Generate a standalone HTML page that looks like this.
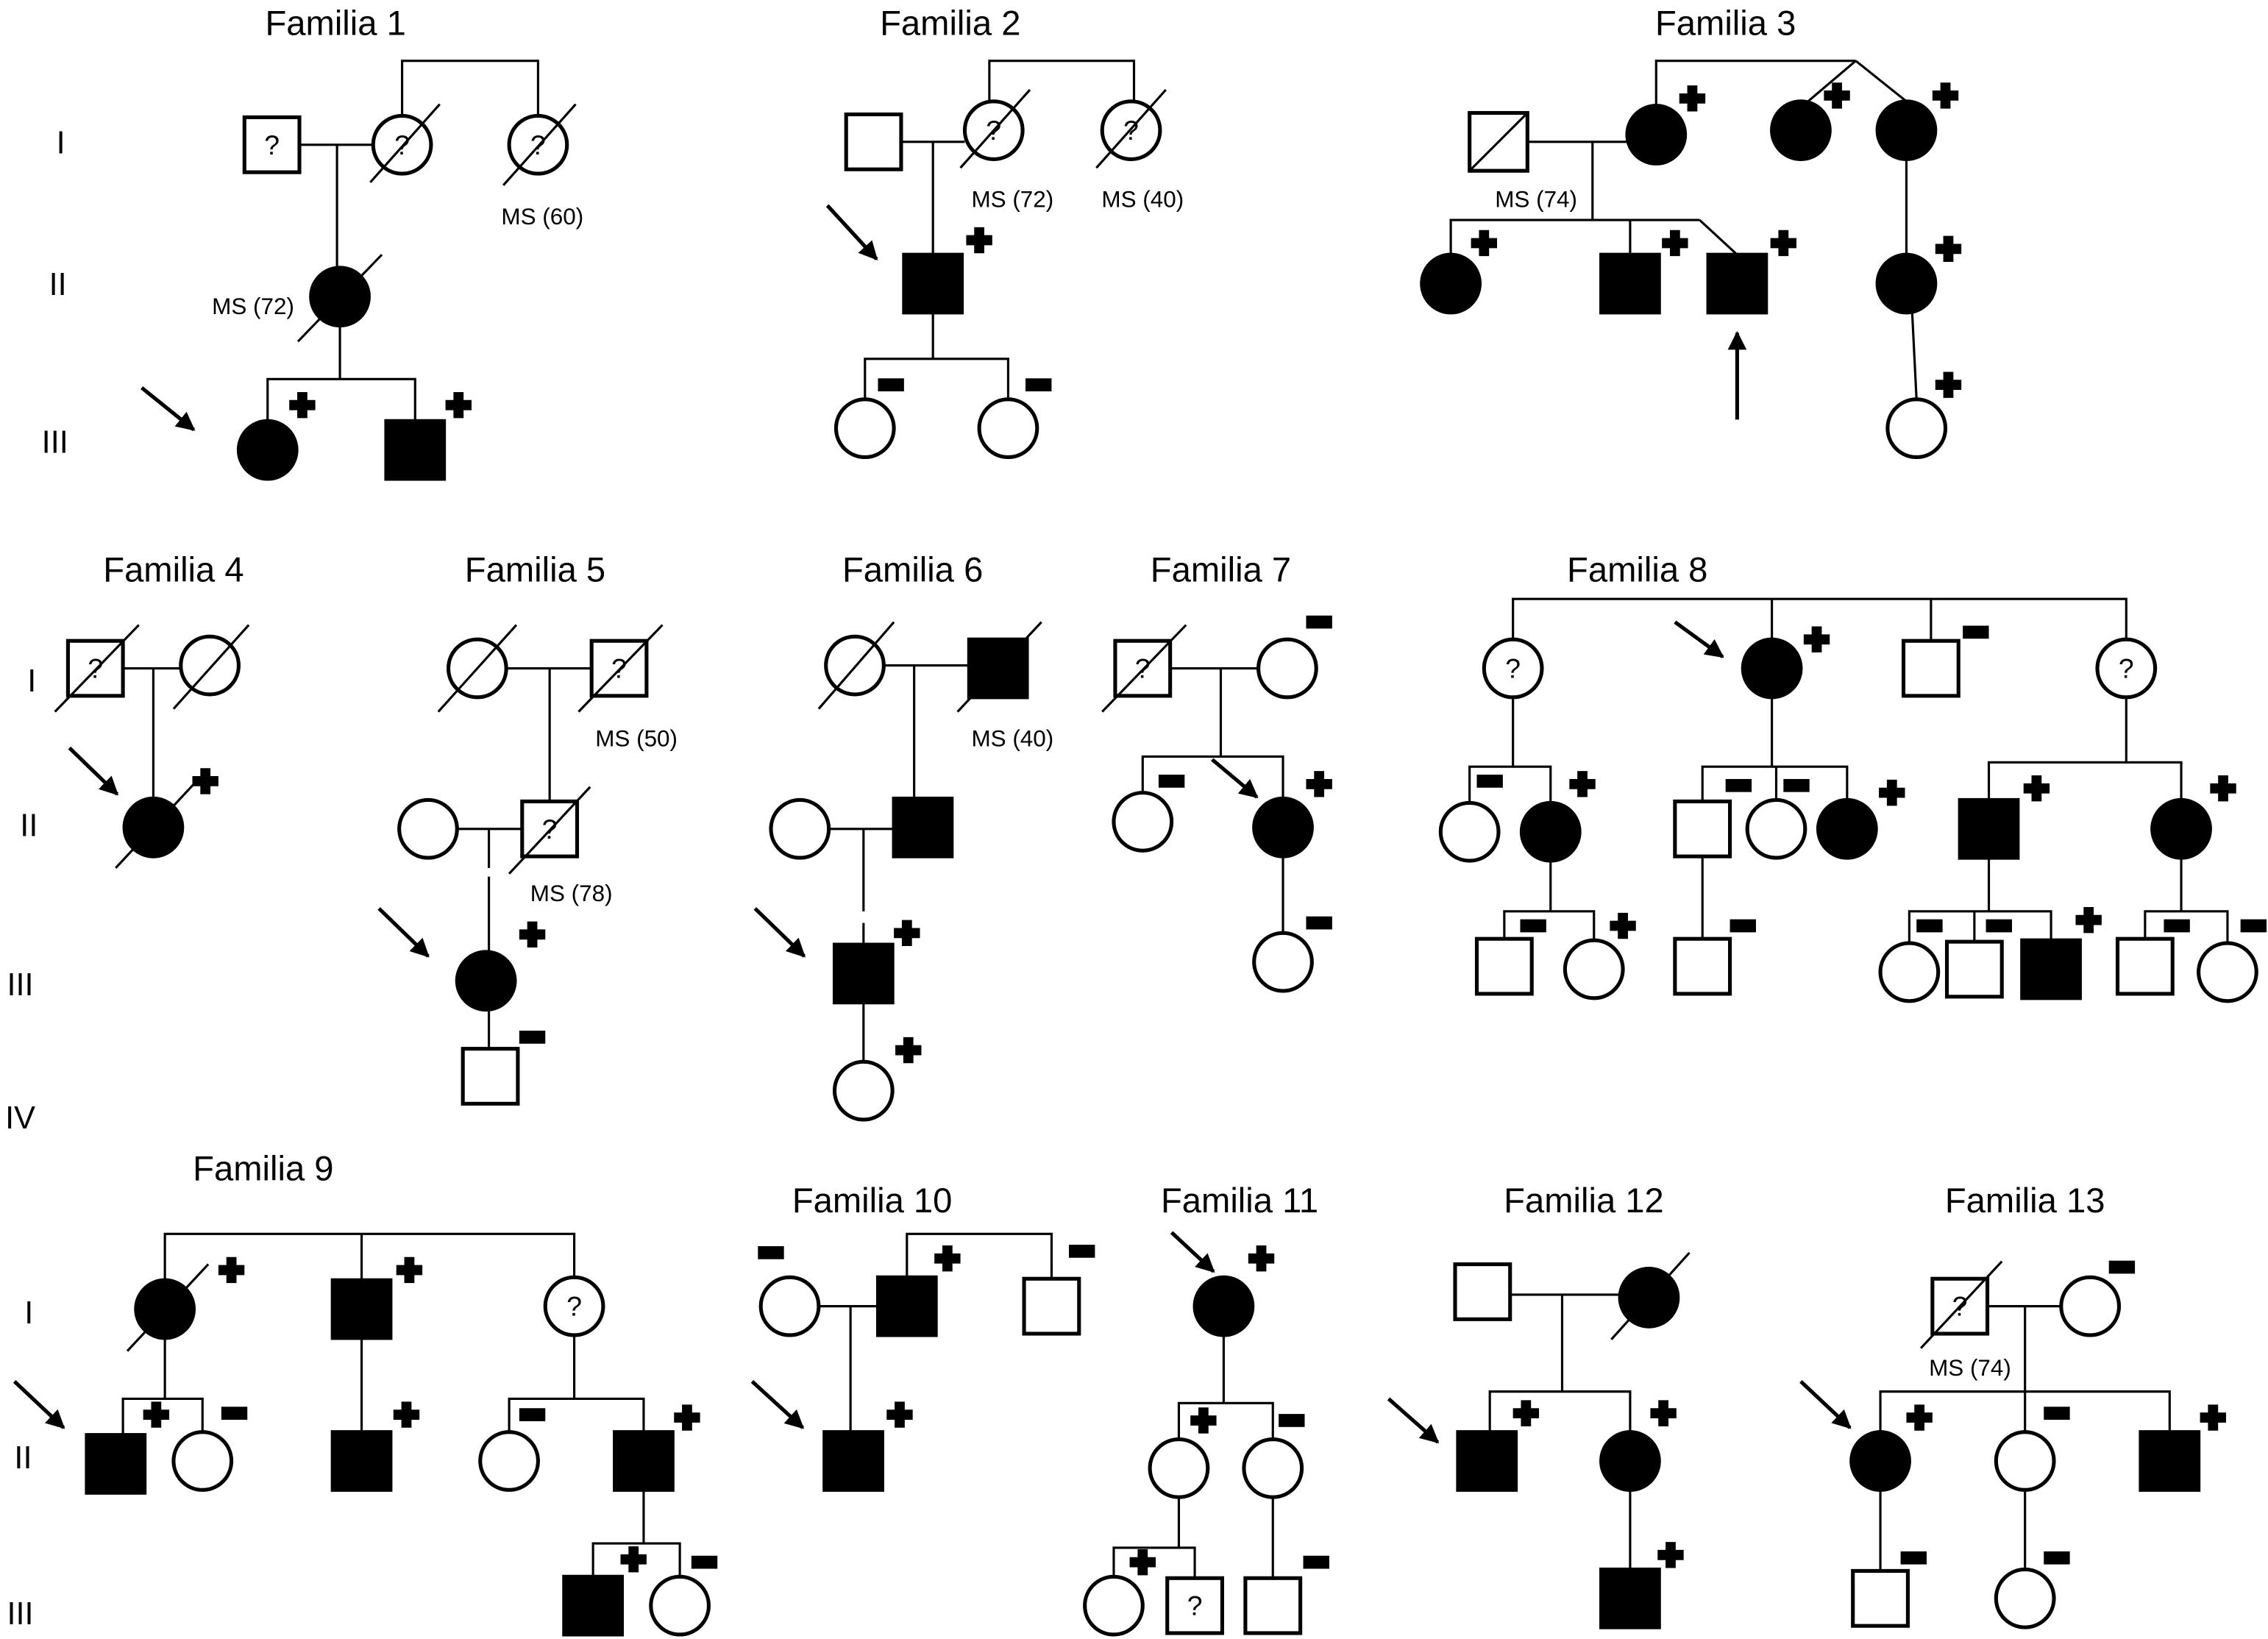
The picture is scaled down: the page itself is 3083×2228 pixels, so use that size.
<!DOCTYPE html>
<html><head><meta charset="utf-8"><style>
html,body{margin:0;padding:0;background:#fff}
svg{display:block}
text{font-family:"Liberation Sans",Arial,sans-serif;fill:#000}
.t{font-size:24px;text-anchor:middle}
.g{font-size:22px;text-anchor:middle}
.m{font-size:16px;text-anchor:middle}
.q{font-size:19px;text-anchor:middle;dominant-baseline:central}
.s{fill:#fff;stroke:#000;stroke-width:2.6}
.f{fill:#000;stroke:#000;stroke-width:2.6}
line,polyline{stroke:#000;stroke-width:1.6;fill:none}
.ar{stroke-width:2.6}
</style></head><body>
<svg width="3083" height="2228" viewBox="0 0 1568 1133" xmlns="http://www.w3.org/2000/svg">
<defs>
<path id="p" d="M-3.5,-9H3.5V-3.5H9V3.5H3.5V9H-3.5V3.5H-9V-3.5H-3.5Z" fill="#000"/>
<rect id="n" x="-9" y="-4.5" width="18" height="9" fill="#000"/>
<marker id="ah" viewBox="0 0 10 10" refX="9" refY="5" markerWidth="5" markerHeight="5" orient="auto"><path d="M0,0L10,5L0,10Z" fill="#000"/></marker>
</defs>

<!-- generation labels -->
<text class="g" x="42" y="106">I</text><text class="g" x="40" y="204">II</text><text class="g" x="38" y="313">III</text>
<text class="g" x="22" y="478">I</text><text class="g" x="20" y="578">II</text><text class="g" x="14" y="688">III</text><text class="g" x="14" y="780">IV</text>
<text class="g" x="20" y="915">I</text><text class="g" x="16" y="1015">II</text><text class="g" x="14" y="1123">III</text>

<!-- ===== Familia 1 ===== -->
<text class="t" x="232" y="24">Familia 1</text>
<polyline points="278,80 278,42 372,42 372,80"/>
<line x1="207" y1="100" x2="258" y2="100"/>
<line x1="233" y1="100" x2="233" y2="185"/>
<polyline points="185,291 185,262 287,262 287,291"/>
<line x1="235" y1="225" x2="235" y2="262"/>
<rect class="s" x="169" y="81" width="38" height="38"/><text class="q" x="188" y="100">?</text>
<circle class="s" cx="278" cy="100" r="20"/><text class="q" x="278" y="100">?</text>
<line x1="256" y1="126" x2="304" y2="72"/>
<circle class="s" cx="372" cy="100" r="20"/><text class="q" x="372" y="100">?</text>
<line x1="348" y1="128" x2="398" y2="72"/>
<text class="m" x="375" y="155">MS (60)</text>
<circle class="f" cx="235" cy="205" r="20"/>
<line x1="206" y1="236" x2="264" y2="176"/>
<text class="m" x="175" y="217">MS (72)</text>
<circle class="f" cx="185" cy="311" r="20"/><use href="#p" x="209" y="280"/>
<rect class="f" x="267" y="291" width="40" height="40"/><use href="#p" x="317" y="280"/>
<line class="ar" x1="98" y1="268" x2="134" y2="297" marker-end="url(#ah)"/>

<!-- ===== Familia 2 ===== -->
<text class="t" x="657" y="24">Familia 2</text>
<polyline points="684,70 684,42 784,42 784,70"/>
<line x1="624" y1="98" x2="667" y2="98"/>
<line x1="645" y1="98" x2="645" y2="176"/>
<rect class="s" x="585" y="79" width="38" height="38"/>
<circle class="s" cx="687" cy="90" r="20"/><text class="q" x="687" y="90">?</text>
<line x1="664" y1="116" x2="712" y2="62"/>
<circle class="s" cx="782" cy="90" r="20"/><text class="q" x="782" y="90">?</text>
<line x1="758" y1="116" x2="806" y2="62"/>
<text class="m" x="700" y="143">MS (72)</text><text class="m" x="790" y="143">MS (40)</text>
<rect class="f" x="625" y="176" width="40" height="40"/><use href="#p" x="677" y="166"/>
<line class="ar" x1="572" y1="142" x2="606" y2="179" marker-end="url(#ah)"/>
<line x1="645" y1="216" x2="645" y2="248"/>
<polyline points="598,276 598,248 697,248 697,276"/>
<circle class="s" cx="598" cy="296" r="20"/><use href="#n" x="616" y="266"/>
<circle class="s" cx="697" cy="296" r="20"/><use href="#n" x="718" y="266"/>

<!-- ===== Familia 3 ===== -->
<text class="t" x="1193" y="24">Familia 3</text>
<polyline points="1145,73 1145,42 1283,42"/>
<line x1="1283" y1="42" x2="1250" y2="70"/><line x1="1283" y1="42" x2="1318" y2="70"/>
<line x1="1056" y1="98" x2="1125" y2="98"/>
<line x1="1101" y1="98" x2="1101" y2="152"/>
<polyline points="1003,176 1003,152 1175,152"/>
<line x1="1127" y1="152" x2="1127" y2="176"/>
<line x1="1175" y1="152" x2="1201" y2="176"/>
<rect class="s" x="1016" y="78" width="40" height="40"/>
<line x1="1016" y1="118" x2="1056" y2="78"/>
<circle class="f" cx="1145" cy="93" r="20"/><use href="#p" x="1170" y="68"/>
<circle class="f" cx="1245" cy="90" r="20"/><use href="#p" x="1270" y="66"/>
<circle class="f" cx="1318" cy="90" r="20"/><use href="#p" x="1345" y="66"/>
<text class="m" x="1062" y="143">MS (74)</text>
<circle class="f" cx="1003" cy="196" r="20"/><use href="#p" x="1026" y="168"/>
<rect class="f" x="1107" y="176" width="40" height="40"/><use href="#p" x="1158" y="168"/>
<rect class="f" x="1181" y="176" width="40" height="40"/><use href="#p" x="1233" y="168"/>
<line class="ar" x1="1201" y1="290" x2="1201" y2="230" marker-end="url(#ah)"/>
<line x1="1318" y1="110" x2="1318" y2="176"/>
<circle class="f" cx="1318" cy="196" r="20"/><use href="#p" x="1347" y="172"/>
<line x1="1322" y1="216" x2="1325" y2="276"/>
<circle class="s" cx="1325" cy="296" r="20"/><use href="#p" x="1347" y="266"/>

<!-- ===== Familia 4 ===== -->
<text class="t" x="120" y="402">Familia 4</text>
<line x1="86" y1="462" x2="125" y2="462"/>
<line x1="106" y1="462" x2="106" y2="552"/>
<rect class="s" x="47" y="443" width="38" height="38"/><text class="q" x="66" y="462">?</text>
<line x1="38" y1="492" x2="96" y2="432"/>
<circle class="s" cx="145" cy="460" r="20"/>
<line x1="120" y1="490" x2="172" y2="432"/>
<circle class="f" cx="106" cy="572" r="20"/><use href="#p" x="142" y="540"/>
<line x1="80" y1="600" x2="134" y2="542"/>
<line class="ar" x1="48" y1="517" x2="81" y2="549" marker-end="url(#ah)"/>

<!-- ===== Familia 5 ===== -->
<text class="t" x="370" y="402">Familia 5</text>
<line x1="350" y1="462" x2="408" y2="462"/>
<line x1="380" y1="462" x2="380" y2="554"/>
<circle class="s" cx="330" cy="462" r="20"/>
<line x1="303" y1="492" x2="357" y2="432"/>
<rect class="s" x="409" y="443" width="38" height="38"/><text class="q" x="428" y="462">?</text>
<line x1="400" y1="492" x2="458" y2="432"/>
<text class="m" x="440" y="516">MS (50)</text>
<line x1="316" y1="573" x2="361" y2="573"/>
<circle class="s" cx="296" cy="573" r="20"/>
<rect class="s" x="361" y="554" width="38" height="38"/><text class="q" x="380" y="573">?</text>
<line x1="352" y1="604" x2="408" y2="544"/>
<text class="m" x="395" y="623">MS (78)</text>
<line x1="338" y1="573" x2="338" y2="600"/><line x1="338" y1="606" x2="338" y2="658"/>
<circle class="f" cx="336" cy="678" r="20"/><use href="#p" x="368" y="646"/>
<line class="ar" x1="262" y1="628" x2="296" y2="661" marker-end="url(#ah)"/>
<line x1="338" y1="698" x2="338" y2="725"/>
<rect class="s" x="320" y="725" width="38" height="38"/><use href="#n" x="368" y="717"/>

<!-- ===== Familia 6 ===== -->
<text class="t" x="631" y="402">Familia 6</text>
<line x1="611" y1="460" x2="670" y2="460"/>
<line x1="632" y1="460" x2="632" y2="552"/>
<circle class="s" cx="591" cy="460" r="20"/>
<line x1="566" y1="490" x2="618" y2="430"/>
<rect class="f" x="670" y="442" width="40" height="40"/>
<line x1="662" y1="492" x2="720" y2="430"/>
<text class="m" x="700" y="516">MS (40)</text>
<rect class="f" x="618" y="552" width="40" height="40"/>
<line x1="573" y1="573" x2="618" y2="573"/>
<circle class="s" cx="553" cy="573" r="20"/>
<line x1="597" y1="573" x2="597" y2="630"/><line x1="597" y1="638" x2="597" y2="653"/>
<rect class="f" x="577" y="653" width="40" height="40"/><use href="#p" x="627" y="645"/>
<line class="ar" x1="522" y1="628" x2="556" y2="661" marker-end="url(#ah)"/>
<line x1="597" y1="693" x2="597" y2="734"/>
<circle class="s" cx="597" cy="754" r="20"/><use href="#p" x="628" y="726"/>

<!-- ===== Familia 7 ===== -->
<text class="t" x="844" y="402">Familia 7</text>
<line x1="810" y1="462" x2="870" y2="462"/>
<line x1="844" y1="462" x2="844" y2="523"/>
<rect class="s" x="771" y="443" width="38" height="38"/><text class="q" x="790" y="462">?</text>
<line x1="762" y1="492" x2="820" y2="432"/>
<circle class="s" cx="890" cy="462" r="20"/><use href="#n" x="912" y="430"/>
<polyline points="790,548 790,523 887,523 887,552"/>
<circle class="s" cx="790" cy="568" r="20"/><use href="#n" x="810" y="540"/>
<circle class="f" cx="887" cy="572" r="20"/><use href="#p" x="912" y="542"/>
<line class="ar" x1="838" y1="525" x2="869" y2="551" marker-end="url(#ah)"/>
<line x1="887" y1="592" x2="887" y2="645"/>
<circle class="s" cx="887" cy="665" r="20"/><use href="#n" x="912" y="638"/>

<!-- ===== Familia 8 ===== -->
<text class="t" x="1132" y="402">Familia 8</text>
<polyline points="1046,442 1046,414 1470,414 1470,442"/>
<line x1="1225" y1="414" x2="1225" y2="442"/><line x1="1335" y1="414" x2="1335" y2="443"/>
<circle class="s" cx="1046" cy="462" r="20"/><text class="q" x="1046" y="462">?</text>
<circle class="f" cx="1225" cy="462" r="20"/><use href="#p" x="1256" y="442"/>
<rect class="s" x="1316" y="443" width="38" height="38"/><use href="#n" x="1366" y="437"/>
<circle class="s" cx="1470" cy="462" r="20"/><text class="q" x="1470" y="462">?</text>
<line class="ar" x1="1158" y1="430" x2="1191" y2="454" marker-end="url(#ah)"/>
<line x1="1046" y1="482" x2="1046" y2="530"/>
<polyline points="1016,555 1016,530 1072,530 1072,555"/>
<circle class="s" cx="1016" cy="575" r="20"/><use href="#n" x="1030" y="540"/>
<circle class="f" cx="1072" cy="575" r="20"/><use href="#p" x="1094" y="542"/>
<line x1="1072" y1="595" x2="1072" y2="630"/>
<polyline points="1040,649 1040,630 1102,630 1102,650"/>
<rect class="s" x="1021" y="649" width="38" height="38"/><use href="#n" x="1060" y="640"/>
<circle class="s" cx="1102" cy="670" r="20"/><use href="#p" x="1122" y="640"/>
<line x1="1225" y1="482" x2="1225" y2="530"/>
<polyline points="1177,554 1177,530 1277,530 1277,553"/>
<line x1="1228" y1="530" x2="1228" y2="553"/>
<rect class="s" x="1158" y="554" width="38" height="38"/><use href="#n" x="1202" y="543"/>
<circle class="s" cx="1228" cy="573" r="20"/><use href="#n" x="1242" y="543"/>
<circle class="f" cx="1277" cy="573" r="20"/><use href="#p" x="1308" y="548"/>
<line x1="1177" y1="592" x2="1177" y2="649"/>
<rect class="s" x="1158" y="649" width="38" height="38"/><use href="#n" x="1205" y="640"/>
<line x1="1470" y1="482" x2="1470" y2="527"/>
<polyline points="1375,553 1375,527 1508,527 1508,553"/>
<rect class="f" x="1355" y="553" width="40" height="40"/><use href="#p" x="1408" y="545"/>
<circle class="f" cx="1508" cy="573" r="20"/><use href="#p" x="1537" y="545"/>
<line x1="1375" y1="593" x2="1375" y2="630"/>
<polyline points="1320,652 1320,630 1418,630 1418,650"/>
<line x1="1365" y1="630" x2="1365" y2="651"/>
<circle class="s" cx="1320" cy="672" r="20"/><use href="#n" x="1334" y="640"/>
<rect class="s" x="1346" y="651" width="38" height="38"/><use href="#n" x="1382" y="640"/>
<rect class="f" x="1398" y="650" width="40" height="40"/><use href="#p" x="1444" y="636"/>
<line x1="1508" y1="593" x2="1508" y2="630"/>
<polyline points="1483,649 1483,630 1540,630 1540,652"/>
<rect class="s" x="1464" y="649" width="38" height="38"/><use href="#n" x="1505" y="640"/>
<circle class="s" cx="1540" cy="672" r="20"/><use href="#n" x="1558" y="640"/>

<!-- ===== Familia 9 ===== -->
<text class="t" x="182" y="816">Familia 9</text>
<polyline points="114,885 114,853 397,853 397,883"/>
<line x1="250" y1="853" x2="250" y2="885"/>
<circle class="f" cx="114" cy="905" r="20"/><use href="#p" x="160" y="878"/>
<line x1="88" y1="934" x2="144" y2="874"/>
<rect class="f" x="230" y="885" width="40" height="40"/><use href="#p" x="283" y="878"/>
<circle class="s" cx="397" cy="903" r="20"/><text class="q" x="397" y="903">?</text>
<line x1="114" y1="925" x2="114" y2="967"/>
<polyline points="85,992 85,967 140,967 140,990"/>
<rect class="f" x="60" y="992" width="40" height="40"/><use href="#p" x="108" y="978"/>
<circle class="s" cx="140" cy="1010" r="20"/><use href="#n" x="162" y="977"/>
<line class="ar" x1="10" y1="955" x2="44" y2="987" marker-end="url(#ah)"/>
<line x1="250" y1="925" x2="250" y2="990"/>
<rect class="f" x="230" y="990" width="40" height="40"/><use href="#p" x="281" y="978"/>
<line x1="397" y1="923" x2="397" y2="967"/>
<polyline points="352,990 352,967 445,967 445,990"/>
<circle class="s" cx="352" cy="1010" r="20"/><use href="#n" x="368" y="978"/>
<rect class="f" x="425" y="990" width="40" height="40"/><use href="#p" x="475" y="980"/>
<line x1="445" y1="1030" x2="445" y2="1067"/>
<polyline points="410,1090 410,1067 470,1067 470,1090"/>
<rect class="f" x="390" y="1090" width="40" height="40"/><use href="#p" x="438" y="1078"/>
<circle class="s" cx="470" cy="1110" r="20"/><use href="#n" x="487" y="1080"/>

<!-- ===== Familia 10 ===== -->
<text class="t" x="603" y="838">Familia 10</text>
<polyline points="627,883 627,853 727,853 727,883"/>
<line x1="566" y1="903" x2="607" y2="903"/>
<line x1="588" y1="903" x2="588" y2="990"/>
<circle class="s" cx="546" cy="903" r="20"/><use href="#n" x="533" y="866"/>
<rect class="f" x="607" y="883" width="40" height="40"/><use href="#p" x="655" y="870"/>
<rect class="s" x="708" y="884" width="38" height="38"/><use href="#n" x="748" y="865"/>
<rect class="f" x="570" y="990" width="40" height="40"/><use href="#p" x="622" y="978"/>
<line class="ar" x1="520" y1="955" x2="555" y2="987" marker-end="url(#ah)"/>

<!-- ===== Familia 11 ===== -->
<text class="t" x="857" y="838">Familia 11</text>
<circle class="f" cx="846" cy="903" r="20"/><use href="#p" x="872" y="870"/>
<line class="ar" x1="810" y1="852" x2="839" y2="879" marker-end="url(#ah)"/>
<line x1="846" y1="923" x2="846" y2="970"/>
<polyline points="815,995 815,970 880,970 880,995"/>
<circle class="s" cx="815" cy="1015" r="20"/><use href="#p" x="832" y="982"/>
<circle class="s" cx="880" cy="1015" r="20"/><use href="#n" x="893" y="982"/>
<line x1="815" y1="1035" x2="815" y2="1070"/>
<polyline points="770,1090 770,1070 826,1070 826,1091"/>
<circle class="s" cx="770" cy="1110" r="20"/><use href="#p" x="790" y="1080"/>
<rect class="s" x="807" y="1091" width="38" height="38"/><text class="q" x="826" y="1110">?</text>
<line x1="880" y1="1035" x2="880" y2="1091"/>
<rect class="s" x="861" y="1091" width="38" height="38"/><use href="#n" x="910" y="1080"/>

<!-- ===== Familia 12 ===== -->
<text class="t" x="1095" y="838">Familia 12</text>
<line x1="1045" y1="895" x2="1120" y2="895"/>
<line x1="1080" y1="895" x2="1080" y2="962"/>
<rect class="s" x="1006" y="874" width="38" height="38"/>
<circle class="f" cx="1140" cy="897" r="20"/>
<line x1="1114" y1="926" x2="1168" y2="866"/>
<polyline points="1030,990 1030,962 1127,962 1127,990"/>
<rect class="f" x="1008" y="990" width="40" height="40"/><use href="#p" x="1055" y="977"/>
<circle class="f" cx="1127" cy="1010" r="20"/><use href="#p" x="1150" y="977"/>
<line class="ar" x1="960" y1="967" x2="994" y2="997" marker-end="url(#ah)"/>
<line x1="1127" y1="1030" x2="1127" y2="1085"/>
<rect class="f" x="1107" y="1085" width="40" height="40"/><use href="#p" x="1155" y="1075"/>

<!-- ===== Familia 13 ===== -->
<text class="t" x="1400" y="838">Familia 13</text>
<line x1="1375" y1="903" x2="1425" y2="903"/>
<line x1="1400" y1="903" x2="1400" y2="990"/>
<rect class="s" x="1336" y="884" width="38" height="38"/><text class="q" x="1355" y="903">?</text>
<line x1="1328" y1="932" x2="1384" y2="872"/>
<circle class="s" cx="1445" cy="903" r="20"/><use href="#n" x="1467" y="876"/>
<text class="m" x="1362" y="951">MS (74)</text>
<polyline points="1300,990 1300,962 1500,962 1500,990"/>
<circle class="f" cx="1300" cy="1010" r="20"/><use href="#p" x="1327" y="980"/>
<circle class="s" cx="1400" cy="1010" r="20"/><use href="#n" x="1422" y="977"/>
<rect class="f" x="1480" y="990" width="40" height="40"/><use href="#p" x="1530" y="980"/>
<line class="ar" x1="1245" y1="955" x2="1279" y2="987" marker-end="url(#ah)"/>
<line x1="1300" y1="1030" x2="1300" y2="1086"/>
<rect class="s" x="1281" y="1086" width="38" height="38"/><use href="#n" x="1323" y="1077"/>
<line x1="1400" y1="1030" x2="1400" y2="1085"/>
<circle class="s" cx="1400" cy="1105" r="20"/><use href="#n" x="1422" y="1077"/>
</svg>
</body></html>
